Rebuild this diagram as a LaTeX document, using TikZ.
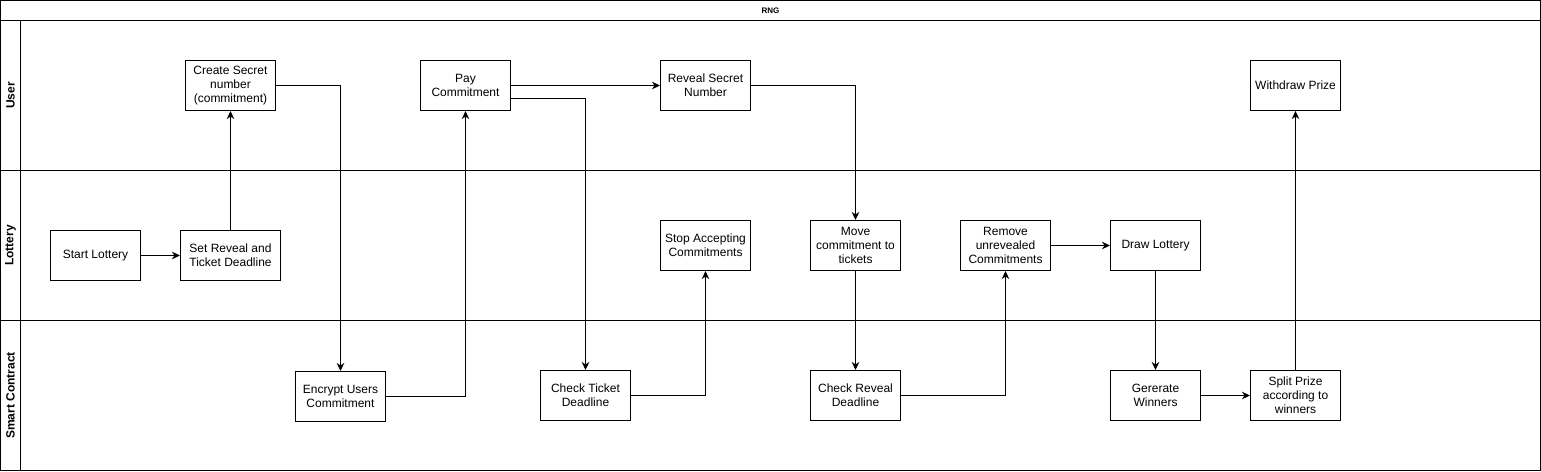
\documentclass[tikz,border=0pt]{standalone}
\usepackage{fontspec}
\setmainfont{Liberation Sans}
\usetikzlibrary{arrows.meta}

\begin{document}
\begin{tikzpicture}[x=1pt, y=-1pt, line width=1pt,
  task/.style={draw, fill=white, minimum width=90pt, minimum height=50pt,
    inner sep=2pt, align=center, font=\fontsize{12}{14}\selectfont},
  flow/.style={-{Stealth[length=8pt,width=7.5pt,inset=2.5pt]}},
  lanename/.style={rotate=90, font=\fontsize{12}{14}\selectfont\bfseries}]
  \useasboundingbox (-0.5,-0.5) rectangle (1540.5,470.5);
  % Pool and lanes
  \draw (0,0) rectangle (1540,470);
  \draw (0,20) -- (1540,20);
  \draw (0,170) -- (1540,170);
  \draw (0,320) -- (1540,320);
  \draw (20,20) -- (20,470);
  \node[font=\fontsize{8}{9}\selectfont\bfseries] (pool) at (770,10) {RNG};
  \node[lanename] (user) at (10,95) {User};
  \node[lanename] (lottery) at (10,245) {Lottery};
  \node[lanename] (contract) at (10,395) {Smart Contract};
  % User lane
  \node[task] (secret) at (230,85) {Create Secret\\number\\(commitment)};
  \node[task] (pay) at (465,85) {Pay\\Commitment};
  \node[task] (reveal) at (705,85) {Reveal Secret\\Number};
  \node[task] (withdraw) at (1295,85) {Withdraw Prize};
  % Lottery lane
  \node[task] (start) at (95,255) {Start Lottery};
  \node[task, minimum width=100pt] (deadline) at (230,255) {Set Reveal and\\Ticket Deadline};
  \node[task] (stop) at (705,245) {Stop Accepting\\Commitments};
  \node[task] (move) at (855,245) {Move\\commitment to\\tickets};
  \node[task] (remove) at (1005,245) {Remove\\unrevealed\\Commitments};
  \node[task] (draw) at (1155,245) {Draw Lottery};
  % Smart contract lane
  \node[task] (encrypt) at (340,396) {Encrypt Users\\Commitment};
  \node[task] (ticket) at (585,395) {Check Ticket\\Deadline};
  \node[task] (check) at (855,395) {Check Reveal\\Deadline};
  \node[task] (winners) at (1155,395) {Gererate\\Winners};
  \node[task] (split) at (1295,395) {Split Prize\\according to\\winners};
  % Flow
  \draw[flow] (start) -- (deadline);
  \draw[flow] (deadline) -- (secret);
  \draw[flow] (secret.east) -| (encrypt.north);
  \draw[flow] (encrypt.east) -| (pay.south);
  \draw[flow] (pay.east) -- (reveal.west);
  \draw[flow] ([yshift=-13pt]pay.east) -| (ticket.north);
  \draw[flow] (ticket.east) -| (stop.south);
  \draw[flow] (reveal.east) -| (move.north);
  \draw[flow] (move) -- (check);
  \draw[flow] (check.east) -| (remove.south);
  \draw[flow] (remove) -- (draw);
  \draw[flow] (draw) -- (winners);
  \draw[flow] (winners) -- (split);
  \draw[flow] (split) -- (withdraw);
\end{tikzpicture}
\end{document}
